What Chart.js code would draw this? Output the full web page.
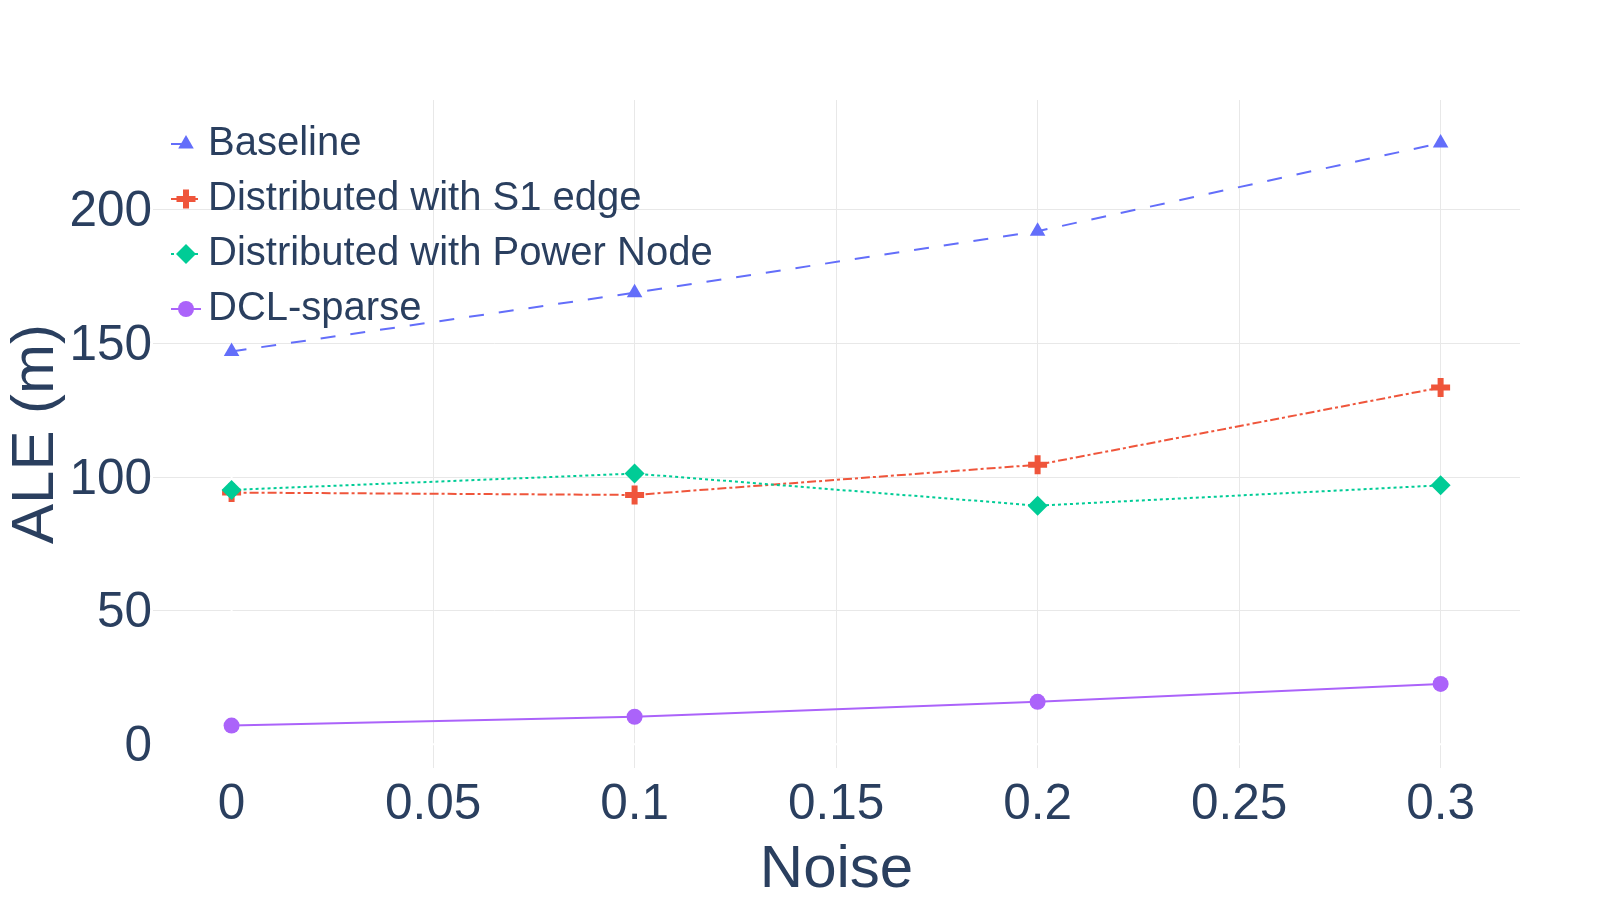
<!DOCTYPE html>
<html>
<head>
<meta charset="utf-8">
<script src="https://cdn.jsdelivr.net/npm/chart.js@4.4.1/dist/chart.umd.min.js"></script>
<style>
  html, body { margin: 0; padding: 0; background: #ffffff; }
  #wrap { width: 1600px; height: 900px; }
</style>
</head>
<body>
<div id="wrap"><canvas id="aleChart" width="1600" height="900"></canvas></div>
<script>
// data
const noise = [0, 0.1, 0.2, 0.3];
const seriesNames = ['Baseline', 'Distributed with S1 edge', 'Distributed with Power Node', 'DCL-sparse'];
const baseline = [147, 169, 192, 225];
const s1Edge = [94.2, 93.3, 104.6, 133.5];
const powerNode = [95.2, 101.3, 89.3, 96.9];
const dclSparse = [7.0, 10.3, 15.9, 22.6];
const xTicks = [0, 0.05, 0.1, 0.15, 0.2, 0.25, 0.3];
const yTicks = [0, 50, 100, 150, 200];

const textColor = '#2a3f5f';
const gridColor = '#e8e8e8';
const fontFamily = '"Liberation Sans", Arial, sans-serif';

function points(values) {
    return noise.map((x, i) => ({ x: x, y: values[i] }));
}

// white zero lines like the plotly_white template
const zeroLines = {
    id: 'zeroLines',
    beforeDatasetsDraw(chart) {
        const { ctx, chartArea, scales } = chart;
        const x0 = scales.x.getPixelForValue(0);
        const y0 = scales.y.getPixelForValue(0);
        ctx.save();
        ctx.strokeStyle = '#ffffff';
        ctx.lineWidth = 2;
        ctx.beginPath();
        ctx.moveTo(x0, chartArea.top);
        ctx.lineTo(x0, chartArea.bottom);
        ctx.moveTo(chartArea.left, y0);
        ctx.lineTo(chartArea.right, y0);
        ctx.stroke();
        ctx.restore();
    }
};

// legend sits inside the plot, top left
const insideLegend = {
    id: 'insideLegend',
    afterDraw(chart) {
        const ctx = chart.ctx;
        const top = 144, gap = 55;
        ctx.save();
        chart.data.datasets.forEach((ds, i) => {
            const y = top + i * gap;
            ctx.strokeStyle = ds.borderColor;
            ctx.lineWidth = 2;
            ctx.setLineDash(ds.borderDash || []);
            ctx.beginPath();
            ctx.moveTo(171, y);
            ctx.lineTo(201, y);
            ctx.stroke();
            ctx.setLineDash([]);

            ctx.fillStyle = ds.pointBackgroundColor;
            ctx.strokeStyle = ds.pointBorderColor;
            ctx.lineWidth = ds.pointBorderWidth;
            if (Chart.helpers && Chart.helpers.drawPoint) {
                Chart.helpers.drawPoint(ctx, {
                    pointStyle: ds.pointStyle,
                    radius: ds.pointRadius,
                    borderWidth: ds.pointBorderWidth,
                    rotation: 0
                }, 186, y);
            } else {
                ctx.beginPath();
                ctx.arc(186, y, 8, 0, Math.PI * 2);
                ctx.fill();
            }

            ctx.fillStyle = textColor;
            ctx.font = '40px ' + fontFamily;
            ctx.textAlign = 'left';
            ctx.textBaseline = 'middle';
            ctx.fillText(ds.label, 208, y);
        });
        ctx.restore();
    }
};

const ctx = document.getElementById('aleChart').getContext('2d');
new Chart(ctx, {
    type: 'line',
    data: {
        datasets: [
            {
                label: seriesNames[0],
                data: points(baseline),
                borderColor: '#636efa',
                borderDash: [15, 15],
                pointStyle: 'triangle',
                pointRadius: 9,
                pointBackgroundColor: '#636efa',
                pointBorderColor: '#636efa',
                pointBorderWidth: 0,
                order: 4
            },
            {
                label: seriesNames[1],
                data: points(s1Edge),
                borderColor: '#EF553B',
                borderDash: [9, 3, 3, 3],
                pointStyle: 'cross',
                pointRadius: 9.5,
                pointBackgroundColor: '#EF553B',
                pointBorderColor: '#EF553B',
                pointBorderWidth: 6,
                order: 3
            },
            {
                label: seriesNames[2],
                data: points(powerNode),
                borderColor: '#00cc96',
                borderDash: [3, 3],
                pointStyle: 'rectRot',
                pointRadius: 10,
                pointBackgroundColor: '#00cc96',
                pointBorderColor: '#00cc96',
                pointBorderWidth: 0,
                order: 2
            },
            {
                label: seriesNames[3],
                data: points(dclSparse),
                borderColor: '#ab63fa',
                borderDash: [],
                pointStyle: 'circle',
                pointRadius: 8,
                pointBackgroundColor: '#ab63fa',
                pointBorderColor: '#ab63fa',
                pointBorderWidth: 0,
                order: 1
            }
        ]
    },
    options: {
        responsive: false,
        animation: false,
        devicePixelRatio: 1,
        elements: { line: { borderWidth: 2, tension: 0, fill: false } },
        layout: { padding: { top: 100, right: 80, left: 0, bottom: 0 } },
        plugins: {
            legend: { display: false },
            tooltip: { enabled: false }
        },
        scales: {
            x: {
                type: 'linear',
                min: -0.0195,
                max: 0.3197,
                afterFit: scale => { scale.height = 132; },
                afterBuildTicks: scale => { scale.ticks = xTicks.map(v => ({ value: v })); },
                border: { display: false },
                grid: {
                    drawTicks: false,
                    lineWidth: 1,
                    color: c => (c.tick && c.tick.value === 0) ? '#ffffff' : gridColor
                },
                ticks: {
                    padding: 8,
                    maxRotation: 0,
                    autoSkip: false,
                    color: textColor,
                    font: { family: fontFamily, size: 49.5 },
                    callback: v => String(v)
                },
                title: {
                    display: true,
                    text: 'Noise',
                    color: textColor,
                    padding: 0,
                    font: { family: fontFamily, size: 60, lineHeight: 1.0 }
                }
            },
            y: {
                type: 'linear',
                min: -8.87,
                max: 241.1,
                afterFit: scale => { scale.width = 153; },
                afterBuildTicks: scale => { scale.ticks = yTicks.map(v => ({ value: v })); },
                border: { display: false },
                grid: {
                    drawTicks: false,
                    lineWidth: 1,
                    color: c => (c.tick && c.tick.value === 0) ? '#ffffff' : gridColor
                },
                ticks: {
                    padding: 1,
                    autoSkip: false,
                    color: textColor,
                    // empty first line nudges the label a few px down
                    font: { family: fontFamily, size: 49.5, lineHeight: '6px' },
                    callback: v => ['', String(v)]
                },
                title: {
                    display: true,
                    text: 'ALE (m)',
                    color: textColor,
                    padding: 0,
                    font: { family: fontFamily, size: 60, lineHeight: 1.2 }
                }
            }
        }
    },
    plugins: [zeroLines, insideLegend]
});
</script>
</body>
</html>
